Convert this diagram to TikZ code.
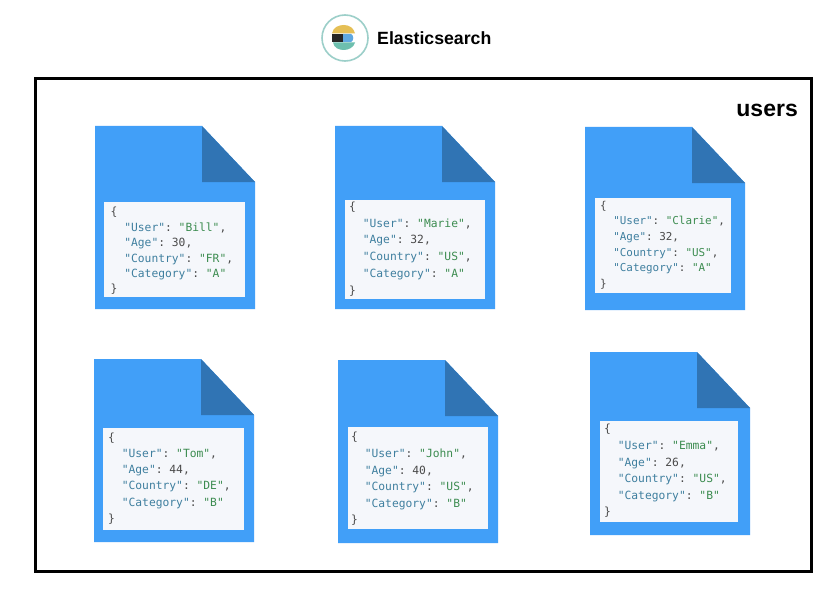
\documentclass[tikz,border=0pt]{standalone}
\usepackage{fontspec}
\setmainfont{Liberation Sans}
\setmonofont{DejaVu Sans Mono}
\usetikzlibrary{positioning}
\definecolor{sheetblue}{HTML}{419FF8}
\definecolor{foldblue}{HTML}{3074B4}
\definecolor{boxgrey}{HTML}{F5F7FB}
\definecolor{keyblue}{HTML}{3F7F9F}
\definecolor{strgreen}{HTML}{3C8C50}
\definecolor{punctgrey}{HTML}{4A4A4A}
\definecolor{logoring}{HTML}{9CCFC9}
\definecolor{logoyellow}{HTML}{E5BF55}
\definecolor{logoblue}{HTML}{5FA8E0}
\definecolor{logoteal}{HTML}{6DBFAE}
\newcommand{\jkey}[1]{\textcolor{keyblue}{"#1"}}
\newcommand{\jstr}[1]{\textcolor{strgreen}{"#1"}}

\begin{document}
\begin{tikzpicture}[
x=1pt,y=-1pt,
sheet/.style={fill=sheetblue,draw=none},
fold/.style={fill=foldblue,draw=none},
jsonbox/.style={
  fill=boxgrey,
  anchor=north west,
  inner sep=0pt},
jsontext/.style={
  anchor=west,
  align=left,
  inner sep=0pt,
  text=punctgrey}
]
\useasboundingbox (0,0) rectangle (840,591);
\fill[white] (0,0) rectangle (840,591);
% logo
\draw[draw=logoring,line width=1.6pt] (345,38) circle [radius=23];
\fill[logoyellow] (332,33.5) .. controls (333,27) and (339,25) .. (344,25)
  .. controls (349,25) and (354,28) .. (355,33.5) -- cycle;
\fill[black!85] (332,34) rectangle (343,42);
\fill[logoblue] (343,34) -- (351,34) .. controls (354,35) and (354,41) .. (351,42) -- (343,42) -- cycle;
\fill[logoteal] (333,42.5) -- (355,42.5) .. controls (354,47) and (349,50) .. (344,50)
  .. controls (339,50) and (334,48) .. (333,42.5) -- cycle;
\node[anchor=west,inner sep=0pt,font=\bfseries\fontsize{17.7}{20}\selectfont] (title) at (377,38) {Elasticsearch};
% index frame
\draw[line width=3pt] (35,79) rectangle (811,571);
\node[anchor=east,inner sep=0pt,font=\bfseries\fontsize{23}{26}\selectfont] (users) at (798,110) {users};
% documents
\foreach \Doc/\X/\Y/\Bx/\By/\Bw/\Bh/\Tx/\Ty/\Fs/\Ls/\User/\Age/\Country/\Cat in {
  bill/95/126/9/76/141/95/15.5/125/11.3/15.4/Bill/30/FR/A,
  marie/335/126/10/74/140/99/14/123/11.3/16.8/Marie/32/US/A,
  clarie/585/127/10/71/136/95/15/118/10.9/15.6/Clarie/32/US/A,
  tom/94/359/9/69/141/102/14/119.5/11.3/16.2/Tom/44/DE/B,
  john/338/360/10/67/140/102/13/119/11.3/16.6/John/40/US/B,
  emma/590/352/10/69/138/101/14/119/11.3/16.6/Emma/26/US/B}
{
  \begin{scope}[shift={(\X,\Y)}]
    \fill[sheet] (0,0) -- (107,0) -- (160,56) -- (160,183) -- (0,183) -- cycle;
    \fill[fold] (107,0) -- (160,56) -- (107,56) -- cycle;
    \node[jsonbox,minimum width=\Bw pt,minimum height=\Bh pt] (\Doc box) at (\Bx,\By) {};
    \node[jsontext,font=\ttfamily\fontsize{\Fs}{\Ls}\selectfont] (\Doc json) at (\Tx,\Ty) {%
      \{\\
      \ \ \jkey{User}: \jstr{\User},\\
      \ \ \jkey{Age}: \Age,\\
      \ \ \jkey{Country}: \jstr{\Country},\\
      \ \ \jkey{Category}: \jstr{\Cat}\\
      \}};
  \end{scope}
}
\end{tikzpicture}
\end{document}
